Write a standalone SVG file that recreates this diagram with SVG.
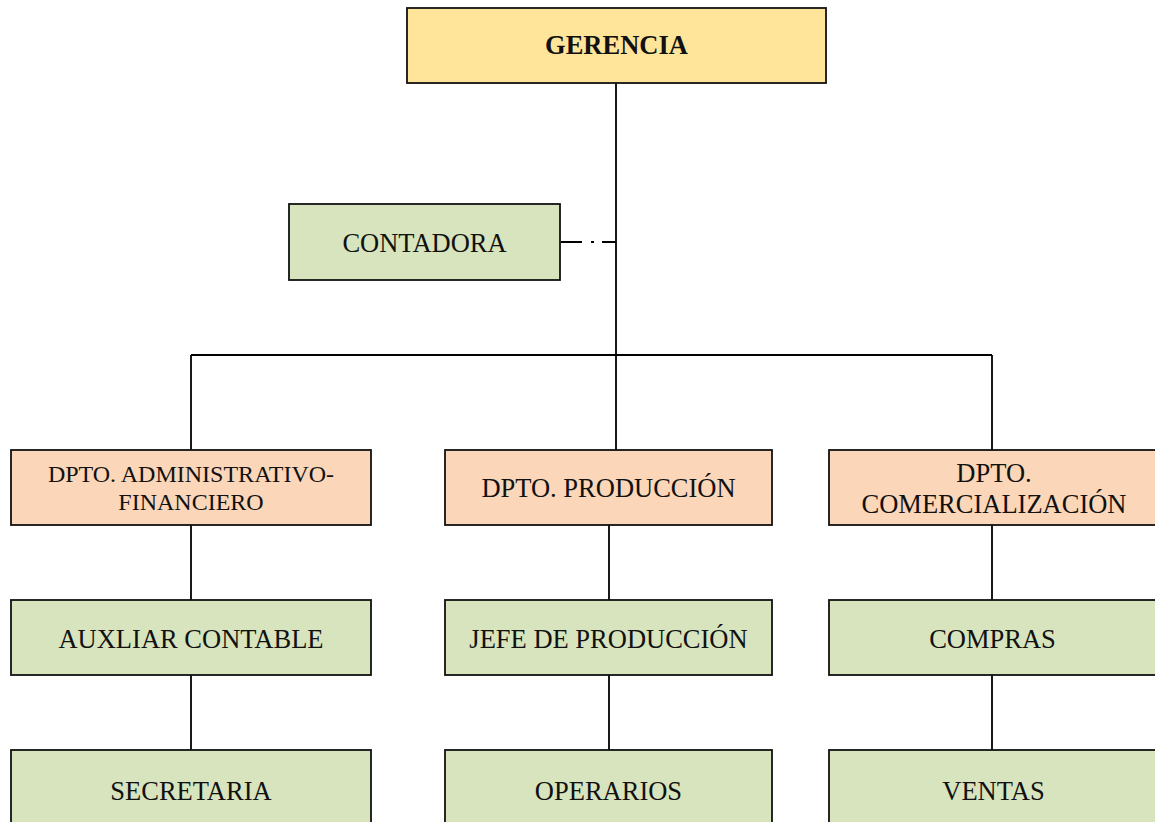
<svg xmlns="http://www.w3.org/2000/svg" width="1155" height="822" viewBox="0 0 1155 822">
<style>
.box{stroke:#111;stroke-width:1.8}
.y{fill:#FFE599}
.g{fill:#D7E4BD}
.o{fill:#FBD6B8}
text{font-family:"Liberation Serif","Times New Roman",serif;font-size:26.5px;fill:#111;text-anchor:middle}
.b{font-weight:bold}
.sm{font-size:24px}
.c{stroke:#000;stroke-width:1.8;fill:none}
</style>
<rect width="1155" height="822" fill="#fff"/>
<g id="connectors">
<line class="c" x1="616" y1="83" x2="616" y2="450" stroke-width="2.4"/>
<line class="c" x1="191" y1="355" x2="992" y2="355"/>
<line class="c" x1="191" y1="355" x2="191" y2="450"/>
<line class="c" x1="992" y1="355" x2="992" y2="450"/>
<line class="c" x1="561" y1="242" x2="616" y2="242" stroke-dasharray="21 9 3 8"/>
<line class="c" x1="191" y1="525" x2="191" y2="600"/>
<line class="c" x1="609" y1="525" x2="609" y2="600"/>
<line class="c" x1="992" y1="525" x2="992" y2="600"/>
<line class="c" x1="191" y1="675" x2="191" y2="750"/>
<line class="c" x1="609" y1="675" x2="609" y2="750"/>
<line class="c" x1="992" y1="675" x2="992" y2="750"/>
</g>
<g id="gerencia"><rect class="box y" x="407" y="8" width="419" height="75"/><text class="b" x="616.5" y="54">GERENCIA</text></g>
<g id="contadora"><rect class="box g" x="289" y="204" width="271" height="76"/><text x="424.5" y="252">CONTADORA</text></g>
<g id="dpto-admin"><rect class="box o" x="11" y="450" width="360" height="75"/><text class="sm" x="191" y="482">DPTO. ADMINISTRATIVO-</text><text class="sm" x="191" y="510">FINANCIERO</text></g>
<g id="dpto-produccion"><rect class="box o" x="445" y="450" width="327" height="75"/><text x="608.5" y="496.5">DPTO. PRODUCCIÓN</text></g>
<g id="dpto-comercializacion"><rect class="box o" x="829" y="450" width="340" height="75"/><text x="994" y="482">DPTO.</text><text x="994" y="512.5">COMERCIALIZACIÓN</text></g>
<g id="auxiliar"><rect class="box g" x="11" y="600" width="360" height="75"/><text x="191" y="648">AUXLIAR CONTABLE</text></g>
<g id="jefe"><rect class="box g" x="445" y="600" width="327" height="75"/><text x="608.5" y="648">JEFE DE PRODUCCIÓN</text></g>
<g id="compras"><rect class="box g" x="829" y="600" width="340" height="75"/><text x="992.5" y="648">COMPRAS</text></g>
<g id="secretaria"><rect class="box g" x="11" y="750" width="360" height="90"/><text x="191" y="800">SECRETARIA</text></g>
<g id="operarios"><rect class="box g" x="445" y="750" width="327" height="90"/><text x="608.5" y="800">OPERARIOS</text></g>
<g id="ventas"><rect class="box g" x="829" y="750" width="340" height="90"/><text x="993.5" y="800">VENTAS</text></g>
</svg>
